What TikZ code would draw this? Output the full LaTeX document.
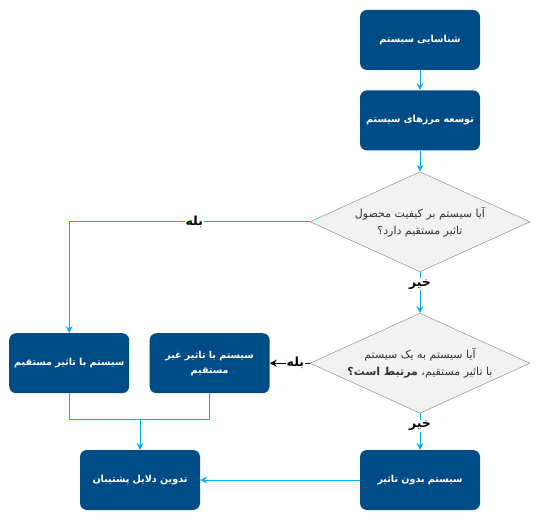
\documentclass[tikz,border=0pt]{standalone}
\usepackage{fontspec}
\newfontfamily\farsi[Script=Arabic]{DejaVu Sans}
\TeXXeTstate=1
\usetikzlibrary{positioning,shapes.geometric,arrows.meta}
\definecolor{boxblue}{RGB}{0,76,135}
\definecolor{linkcyan}{RGB}{0,176,240}
\definecolor{diafill}{RGB}{242,242,242}
\definecolor{edgegray}{RGB}{128,128,128}
\definecolor{textgray}{RGB}{51,51,51}
\begin{document}
\begin{tikzpicture}[x=1pt,y=1pt,
	mainbox/.style={shape=rectangle, rounded corners=7pt, fill=boxblue, text=white, text width=116pt, minimum height=60pt, inner sep=2pt, align=center, font=\farsi\bfseries\fontsize{9.6}{15}\selectfont},
	decision/.style={shape=diamond, aspect=2.2, draw=edgegray, fill=diafill, minimum width=220pt, minimum height=100pt, inner sep=0pt, text=textgray, align=center, font=\farsi\fontsize{11}{17}\selectfont},
	flow/.style={draw=linkcyan, line width=1pt, -{Stealth[length=7pt,width=7pt,inset=2.5pt]}},
	yesflow/.style={draw=black, line width=1pt, -{Stealth[length=7pt,width=7pt,inset=2.5pt]}},
	answer/.style={fill=white, inner sep=1pt, text=black, font=\farsi\bfseries\fontsize{12.5}{14}\selectfont}]
	\useasboundingbox (0,0) rectangle (541,-521);
	
	\node[mainbox] (identify) at (420,-40) {\beginR شناسایی سیستم\endR};
	\node[mainbox, below=20pt of identify] (bounds) {\beginR توسعه مرزهای سیستم\endR};
	
	\node[decision, below=21pt of bounds] (quality) {\beginR آیا سیستم بر کیفیت محصول\endR\\\beginR تاثیر مستقیم دارد؟\endR};
	\node[decision, below=41pt of quality] (related) {\beginR آیا سیستم به یک سیستم\endR\\\beginR با تاثیر مستقیم، {\bfseries مرتبط است؟}\endR};
	
	\node[mainbox] (noimpact) at (420,-480) {\beginR سیستم بدون تاثیر\endR};
	\node[mainbox, left=40pt of related] (indirect) {\beginR سیستم با تاثیر غیر\endR\\\beginR مستقیم\endR};
	\node[mainbox, left=20pt of indirect] (direct) {\beginR سیستم با تاثیر مستقیم\endR};
	\node[mainbox] (reasons) at (140,-480) {\beginR تدوین دلایل پشتیبان\endR};
	\coordinate[above=30pt of reasons.north] (merge);
	
	\draw[flow] (identify) -- (bounds);
	\draw[flow] (bounds) -- (quality);
	\draw[flow] (quality) -- node[answer, pos=0.3]{\beginR خیر\endR} (related);
	\draw[flow] (quality.west) -| node[answer, pos=0.24]{\beginR بله\endR} (direct.north);
	\draw[yesflow] (related.west) -- node[answer, pos=0.36]{\beginR بله\endR} (indirect.east);
	\draw[flow] (related) -- node[answer, pos=0.35]{\beginR خیر\endR} (noimpact);
	
	\draw[draw=linkcyan, line width=1pt] (direct.south) |- (merge);
	\draw[draw=linkcyan, line width=1pt] (indirect.south) |- (merge);
	\draw[flow] (merge) -- (reasons.north);
	\draw[flow] (noimpact) -- (reasons);
\end{tikzpicture}
\end{document}
